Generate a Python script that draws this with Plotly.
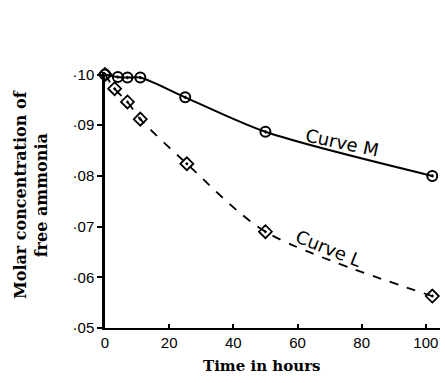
import plotly.graph_objects as go

# Data
m_hours = [0, 4, 7, 11, 25, 50, 102]
m_conc = [0.1000, 0.0995, 0.0994, 0.0994, 0.0955, 0.0887, 0.0800]
l_hours = [0, 3, 7, 11, 25.5, 50, 102]
l_conc = [0.1000, 0.0972, 0.0946, 0.0912, 0.0824, 0.0690, 0.0563]
y_ticks = [0.05, 0.06, 0.07, 0.08, 0.09, 0.10]
y_labels = ["·05", "·06", "·07", "·08", "·09", "·10"]
x_ticks = [0, 20, 40, 60, 80, 100]

fig = go.Figure()
fig.add_trace(go.Scatter(
    x=m_hours, y=m_conc, mode="lines+markers",
    line=dict(color="black", width=2, shape="spline", smoothing=0.8),
    marker=dict(symbol="circle-open-dot", size=10, color="black", line=dict(width=2)),
    showlegend=False, cliponaxis=False))
fig.add_trace(go.Scatter(
    x=l_hours, y=l_conc, mode="lines+markers",
    line=dict(color="black", width=1.8, dash="dash", shape="spline", smoothing=0.8),
    marker=dict(symbol="diamond-open-dot", size=10, color="black", line=dict(width=1.8)),
    showlegend=False, cliponaxis=False))

fig.add_annotation(x=73.8, y=0.0866, text="Curve M", showarrow=False, textangle=12,
                   xanchor="center", yanchor="middle",
                   font=dict(family="DejaVu Sans", size=18, color="black"))
fig.add_annotation(x=69.8, y=0.0656, text="Curve L", showarrow=False, textangle=22,
                   xanchor="center", yanchor="middle",
                   font=dict(family="DejaVu Sans", size=18, color="black"))

# axis titles as paper-positioned annotations
fig.add_annotation(xref="paper", yref="paper", x=(262 - 105) / 335, y=-(366 - 328) / 256,
                   xanchor="center", yanchor="middle",
                   text="Time in hours", showarrow=False,
                   font=dict(family="DejaVu Serif", size=15, color="black", weight="bold"))
fig.add_annotation(xref="paper", yref="paper", x=-(105 - 31) / 335, y=(328 - 195) / 256,
                   xanchor="center", yanchor="middle",
                   text="Molar concentration of<br>free ammonia", showarrow=False, textangle=-90,
                   font=dict(family="DejaVu Serif", size=16, color="black", weight="bold"))

fig.update_layout(
    width=445, height=383,
    margin=dict(l=105, r=5, t=72, b=55, autoexpand=False),
    paper_bgcolor="white", plot_bgcolor="white",
    xaxis=dict(range=[0, 104.4], tickvals=x_ticks, ticks="inside", ticklen=4,
               tickwidth=1.5, tickcolor="black", automargin=False,
               showline=True, linecolor="black", linewidth=2, showgrid=False, zeroline=False,
               tickfont=dict(family="Liberation Sans", size=15, color="black")),
    yaxis=dict(range=[0.05, 0.1005], tickvals=y_ticks, ticktext=y_labels, ticks="outside",
               ticklen=5, tickwidth=1.5, tickcolor="black", automargin=False,
               showline=True, linecolor="black", linewidth=2.5, showgrid=False, zeroline=False,
               tickfont=dict(family="Liberation Sans", size=15, color="black")),
)

fig.write_html("out.html", config={"displayModeBar": False},
               post_script="document.body.style.margin='0';document.body.style.padding='0';")
